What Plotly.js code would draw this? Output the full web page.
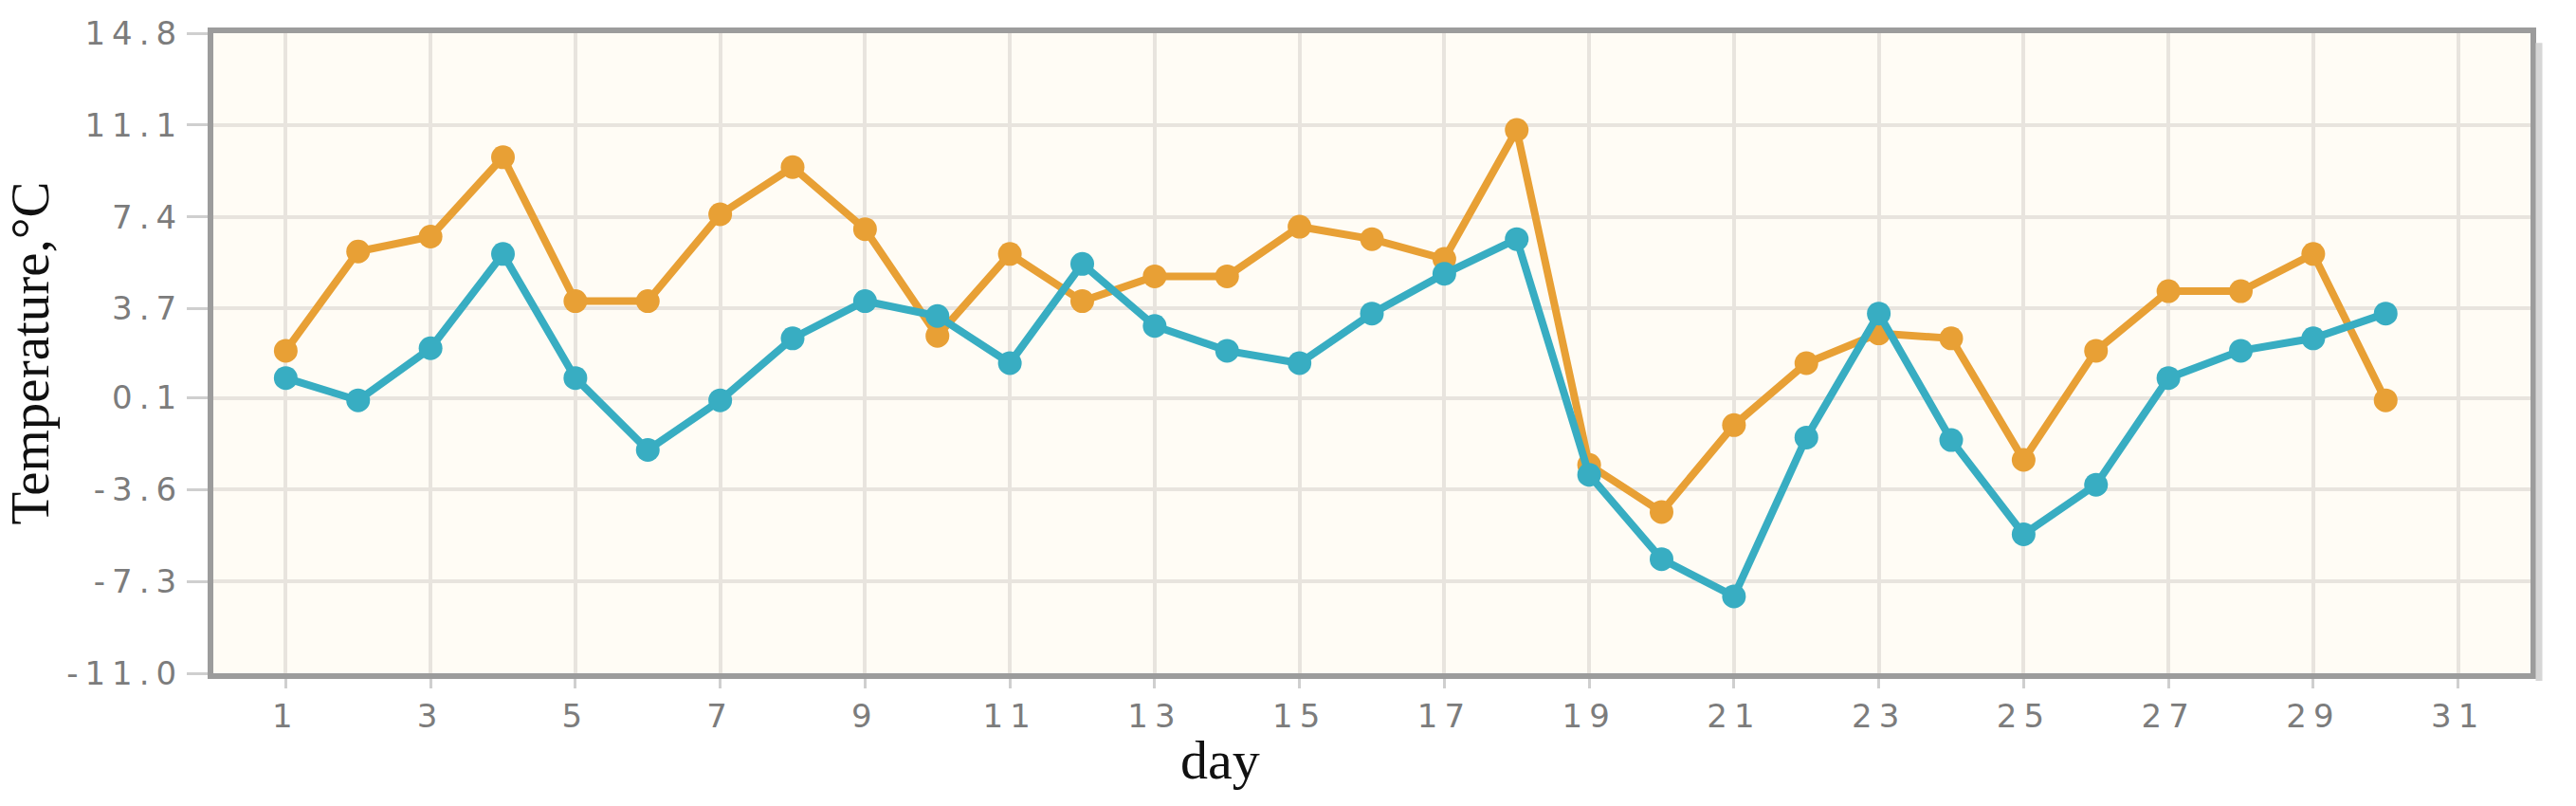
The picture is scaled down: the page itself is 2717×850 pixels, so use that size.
<!DOCTYPE html>
<html>
<head>
<meta charset="utf-8">
<script src="https://cdn.plot.ly/plotly-3.0.1.min.js"></script>
<style>
  html, body { margin: 0; padding: 0; background: #ffffff; }
  #chart { width: 2717px; height: 850px; }
  .xtick text, .ytick text { letter-spacing: 7px; }
</style>
</head>
<body>
<div id="chart"></div>
<script>
// days of the month
const DAYS = [1, 2, 3, 4, 5, 6, 7, 8, 9, 10, 11, 12, 13, 14, 15,
              16, 17, 18, 19, 20, 21, 22, 23, 24, 25, 26, 27, 28, 29, 30];

// orange series
const TEMP_ORANGE = [2.0, 6.0, 6.6, 9.8, 4.0, 4.0, 7.5, 9.4, 6.9, 2.6,
                     5.9, 4.0, 5.0, 5.0, 7.0, 6.5, 5.7, 10.9, -2.6, -4.5,
                     -1.0, 1.5, 2.7, 2.5, -2.4, 2.0, 4.4, 4.4, 5.9, 0.0];

// teal series
const TEMP_TEAL = [0.9, 0.0, 2.1, 5.9, 0.9, -2.0, 0.0, 2.5, 4.0, 3.4,
                   1.5, 5.5, 3.0, 2.0, 1.5, 3.5, 5.1, 6.5, -3.0, -6.4,
                   -7.9, -1.5, 3.5, -1.6, -5.4, -3.4, 0.9, 2.0, 2.5, 3.5];

// y ticks
const Y_TICKS = [-11.0, -7.3, -3.6, 0.1, 3.7, 7.4, 11.1, 14.8];
const Y_TICK_TEXT = ["-11.0", "-7.3", "-3.6", "0.1", "3.7", "7.4", "11.1", "14.8"];

const DATA = [
  {
    x: DAYS, y: TEMP_ORANGE,
    mode: "lines+markers", type: "scatter",
    line: {color: "#e8a035", width: 8},
    marker: {color: "#e8a035", size: 25}
  },
  {
    x: DAYS, y: TEMP_TEAL,
    mode: "lines+markers", type: "scatter",
    line: {color: "#38adc2", width: 8},
    marker: {color: "#38adc2", size: 25}
  }
];

const LAYOUT = {
  width: 2717, height: 850,
  margin: {l: 225, r: 48, t: 35, b: 140},
  paper_bgcolor: "#ffffff",
  plot_bgcolor: "#fffcf5",
  showlegend: false,
  font: {family: "DejaVu Sans", color: "#7c7c7c", size: 33},
  xaxis: {
    range: [0, 32],
    tick0: 1, dtick: 2,
    showgrid: true, gridcolor: "#e8e4de", gridwidth: 4,
    zeroline: false,
    showline: true, mirror: true, linecolor: "#9c9c9c", linewidth: 6,
    ticks: "outside", ticklen: 10, tickwidth: 3, tickcolor: "#cfcfcf",
    ticklabelstandoff: 0,
    tickfont: {family: "DejaVu Sans", size: 34, color: "#7c7c7c"}
  },
  yaxis: {
    range: [-11, 14.8],
    tickvals: Y_TICKS, ticktext: Y_TICK_TEXT,
    showgrid: true, gridcolor: "#e8e4de", gridwidth: 4,
    zeroline: false,
    showline: true, mirror: true, linecolor: "#9c9c9c", linewidth: 6,
    ticks: "outside", ticklen: 22, tickwidth: 3, tickcolor: "#cfcfcf",
    ticklabelstandoff: -3,
    tickfont: {family: "DejaVu Sans", size: 34, color: "#7c7c7c"},
    title: {text: "Temperature,°C", standoff: 2,
            font: {family: "Liberation Serif", size: 57, color: "#111111"}}
  },
  shapes: [
    // soft shadow to the right of the frame
    {type: "line", xref: "paper", yref: "paper", xsizemode: "pixel", xanchor: 1,
     x0: 9, x1: 9, y0: -0.012, y1: 0.985,
     line: {color: "#d6d6d6", width: 7}}
  ],
  annotations: [
    {
      text: "day", xref: "x", yref: "paper", x: 13.9, y: -0.136,
      xanchor: "center", yanchor: "middle", showarrow: false,
      font: {family: "Liberation Serif", size: 58, color: "#111111"}
    }
  ]
};

Plotly.newPlot("chart", DATA, LAYOUT, {staticPlot: true});
</script>
</body>
</html>
